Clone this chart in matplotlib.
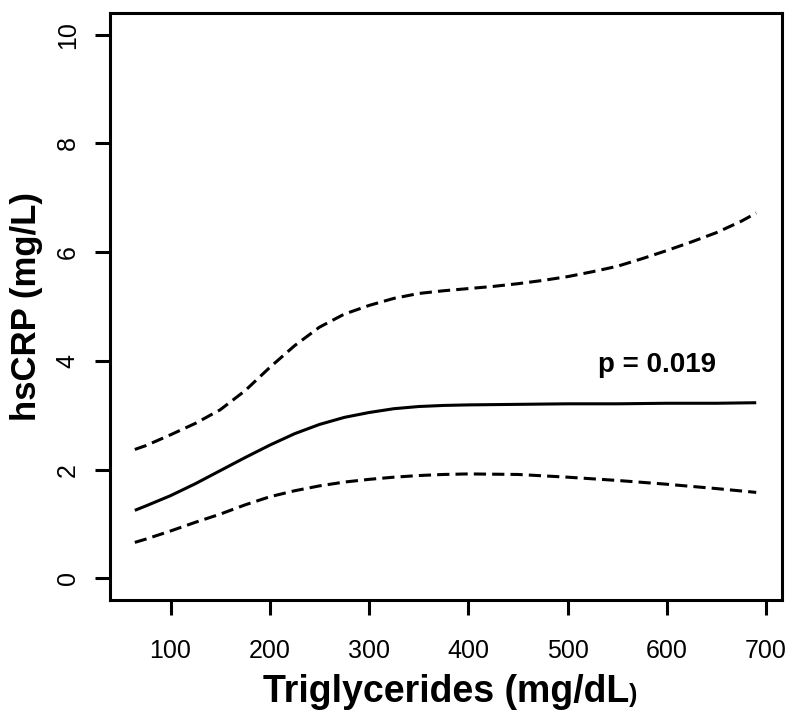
import matplotlib
matplotlib.use("Agg")
import matplotlib.pyplot as plt

plt.rcParams['font.family'] = ['Liberation Sans', 'DejaVu Sans']

# fitted hsCRP curve and its 95% band
fit_tg = [64, 75, 100, 125, 150, 175, 200, 225, 250, 275, 300, 325, 350, 375, 400,
          450, 500, 550, 600, 650, 690]
fit_crp = [1.25, 1.33, 1.52, 1.74, 1.98, 2.22, 2.45, 2.66, 2.83, 2.96, 3.05, 3.12, 3.16,
           3.18, 3.19, 3.20, 3.21, 3.21, 3.22, 3.22, 3.23]

upper_tg = [64, 75, 100, 125, 150, 175, 200, 225, 250, 275, 300, 325, 350, 375, 400,
            425, 450, 475, 500, 525, 550, 575, 600, 625, 650, 675, 690]
upper_crp = [2.37, 2.44, 2.64, 2.85, 3.10, 3.45, 3.88, 4.28, 4.62, 4.86, 5.02, 5.15, 5.24,
             5.29, 5.33, 5.37, 5.42, 5.48, 5.55, 5.64, 5.74, 5.88, 6.03, 6.19, 6.36, 6.57, 6.72]

lower_tg = [64, 75, 100, 125, 150, 175, 200, 225, 250, 275, 300, 325, 350, 375, 400,
            450, 500, 550, 600, 650, 690]
lower_crp = [0.66, 0.72, 0.87, 1.03, 1.18, 1.35, 1.50, 1.61, 1.70, 1.77, 1.82, 1.86, 1.89,
             1.91, 1.92, 1.91, 1.86, 1.80, 1.73, 1.65, 1.58]

x_ticks = [100, 200, 300, 400, 500, 600, 700]
y_ticks = [0, 2, 4, 6, 8, 10]
p_text = "p = 0.019"

fig = plt.figure(figsize=(7.92, 7.16), dpi=100)
ax = fig.add_axes([0.1389, 0.162, 0.8485, 0.8198])

lw = 2.2
dash = (0, (4, 2))
ax.plot(fit_tg, fit_crp, color='black', lw=lw, solid_capstyle='butt')
ax.plot(upper_tg, upper_crp, color='black', lw=lw, linestyle=dash)
ax.plot(lower_tg, lower_crp, color='black', lw=lw, linestyle=dash)

ax.set_xlim(39, 716)
ax.set_ylim(-0.4, 10.4)
ax.set_xticks(x_ticks)
ax.set_yticks(y_ticks)

for sp in ax.spines.values():
    sp.set_linewidth(lw)

ax.tick_params(direction='out', length=10.8, width=lw, labelsize=18, color='black')
ax.tick_params(axis='x', pad=17)
ax.tick_params(axis='y', pad=11, labelrotation=90)
for lab in ax.get_yticklabels():
    lab.set_va('center')

ax.text(590, 3.93, p_text, fontsize=20, fontweight='bold', ha='center', va='center')

xl = ax.set_xlabel("Triglycerides (mg/dL", fontsize=27, fontweight='bold', labelpad=8)
ax.annotate(")", xy=(1, 0.08), xycoords=xl, fontsize=18, fontweight='bold',
            ha='left', va='bottom')
ax.set_ylabel("hsCRP (mg/L)", fontsize=25, fontweight='bold', labelpad=9)

fig.savefig("out.png", dpi=100)
